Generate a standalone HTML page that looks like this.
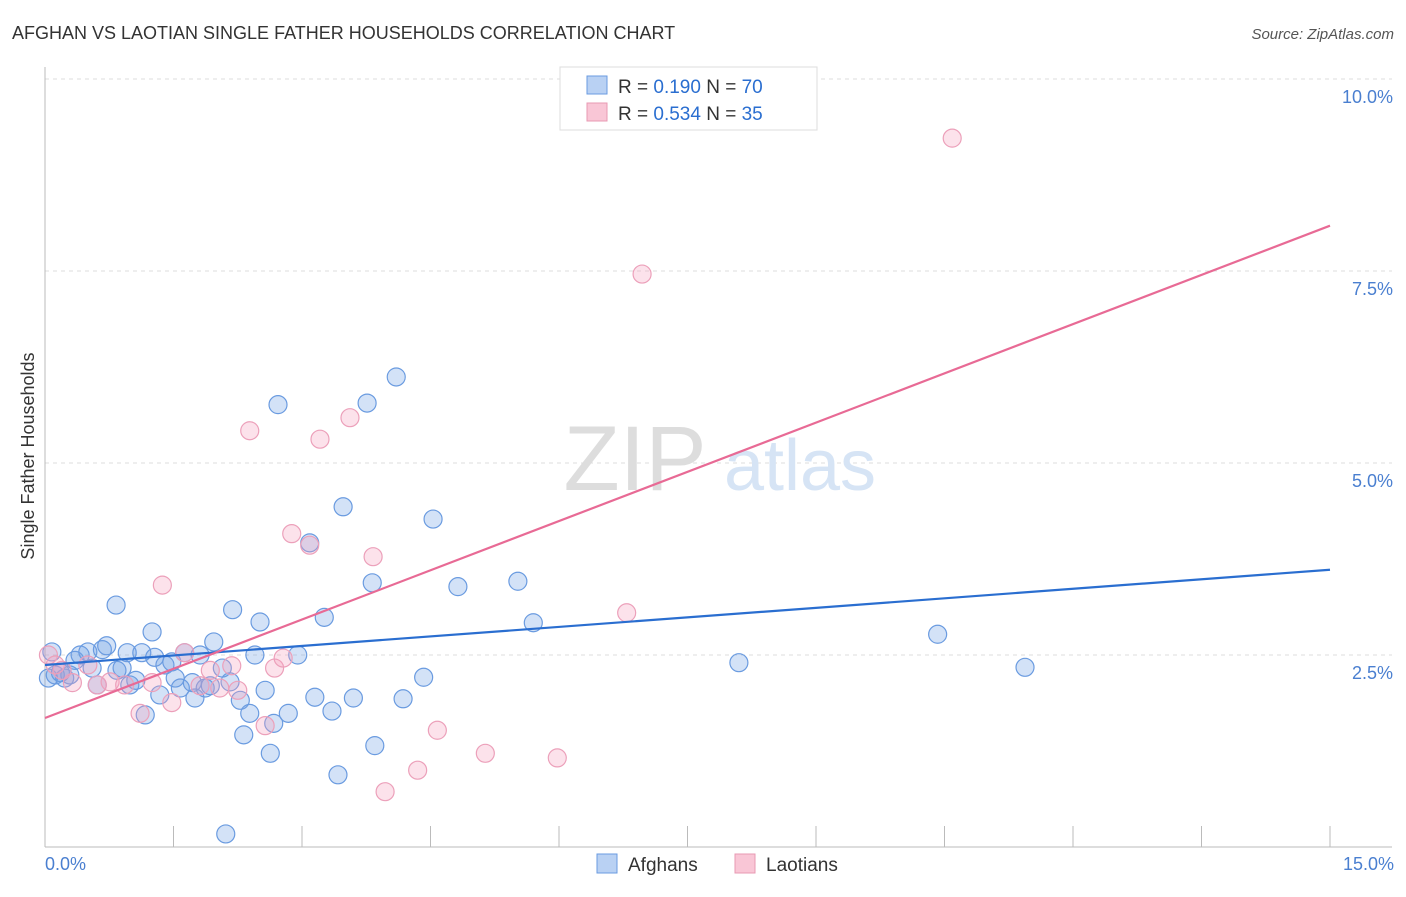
<!DOCTYPE html>
<html><head><meta charset="utf-8"><style>
body{margin:0;background:#fff;font-family:"Liberation Sans",sans-serif;}
svg text{font-family:"Liberation Sans",sans-serif;}
</style></head><body>
<svg width="1406" height="892" viewBox="0 0 1406 892">
<text x="12" y="39" font-size="18" fill="#333">AFGHAN VS LAOTIAN SINGLE FATHER HOUSEHOLDS CORRELATION CHART</text>
<text x="1394" y="39" font-size="15" fill="#555" text-anchor="end" font-style="italic">Source: ZipAtlas.com</text>
<g id="grid"></g>
<g><text x="635" y="490" font-size="92" fill="#ddd" text-anchor="middle" font-family="Liberation Serif">ZIP</text><text x="800" y="490" font-size="72" fill="#d6e4f5" text-anchor="middle">atlas</text></g>
<line x1="45" y1="67" x2="45" y2="847" stroke="#bbb"/>
<line x1="45" y1="847" x2="1392" y2="847" stroke="#bbb"/>
<g id="xticks"></g>
<g id="yticks"></g>
<text x="45" y="870" font-size="18" fill="#4a7fd0">0.0%</text>
<text x="1394" y="870" font-size="18" fill="#4a7fd0" text-anchor="end">15.0%</text>
<text transform="translate(34,456) rotate(-90)" font-size="18" fill="#333" text-anchor="middle">Single Father Households</text>
<g id="pts"></g>
<g id="lines"></g>
<g>
<rect x="560" y="67" width="257" height="63" fill="#fff" stroke="#ddd"/>
<rect x="587" y="76" width="20" height="18" fill="#b9d1f3" stroke="#6a9be0"/>
<rect x="587" y="103" width="20" height="18" fill="#f9c6d6" stroke="#e899b3"/>
<text x="618" y="93" font-size="19" fill="#333">R = <tspan fill="#2a6ed0">0.190</tspan>   N = <tspan fill="#2a6ed0">70</tspan></text>
<text x="618" y="120" font-size="19" fill="#333">R = <tspan fill="#2a6ed0">0.534</tspan>   N = <tspan fill="#2a6ed0">35</tspan></text>
</g>
<g>
<rect x="597" y="854" width="20" height="19" fill="#b9d1f3" stroke="#6a9be0"/>
<text x="628" y="871" font-size="19" fill="#333">Afghans</text>
<rect x="735" y="854" width="20" height="19" fill="#f9c6d6" stroke="#e899b3"/>
<text x="766" y="871" font-size="19" fill="#333">Laotians</text>
</g>
</svg>
<script>
const yTicks=[2.5,5,7.5,10];
const yTickLabels=["2.5%","5.0%","7.5%","10.0%"];
const xTicks=[0,1.5,3,4.5,6,7.5,9,10.5,12,13.5,15];
const afghanX=[0.04,0.08,0.12,0.18,0.23,0.29,0.35,0.41,0.50,0.55,0.61,0.67,0.72,0.83,0.90,0.96,0.99,1.06,1.13,1.17,1.25,1.28,1.34,1.40,1.48,1.52,1.58,1.63,1.72,1.75,1.81,1.87,1.93,1.97,2.07,2.16,2.19,2.28,2.32,2.39,2.45,2.51,2.57,2.63,2.67,2.72,2.84,2.95,3.09,3.15,3.26,3.35,3.42,3.48,3.60,3.76,3.82,3.85,4.10,4.18,4.42,4.53,4.82,5.52,5.70,2.11,8.10,10.42,11.44,0.84];
const afghanY=[2.20,2.54,2.24,2.27,2.20,2.24,2.43,2.50,2.54,2.33,2.11,2.57,2.62,3.15,2.33,2.53,2.11,2.17,2.53,1.72,2.80,2.47,1.98,2.37,2.41,2.20,2.07,2.53,2.14,1.94,2.50,2.07,2.10,2.67,2.33,2.15,3.09,1.91,1.46,1.74,2.50,2.93,2.04,1.22,1.61,5.76,1.74,2.50,3.96,1.95,2.99,1.77,0.94,4.43,1.94,5.78,3.44,1.32,6.12,1.93,2.21,4.27,3.39,3.46,2.92,0.17,2.40,2.77,2.34,2.30];
const laoX=[0.04,0.12,0.20,0.32,0.50,0.61,0.76,0.93,1.11,1.25,1.37,1.48,1.63,1.81,1.93,2.04,2.18,2.25,2.39,2.57,2.68,2.78,2.88,3.09,3.21,3.56,3.83,3.97,4.35,4.58,5.14,5.98,6.79,6.97,10.59];
const laoY=[2.50,2.37,2.30,2.14,2.37,2.11,2.15,2.11,1.74,2.14,3.41,1.88,2.53,2.10,2.30,2.07,2.36,2.04,5.42,1.58,2.33,2.46,4.08,3.93,5.31,5.59,3.78,0.72,1.00,1.52,1.22,1.16,3.05,7.46,9.23];
const afghanTrend=[2.37,3.61];
const laoTrend=[1.68,8.09];
const NS="http://www.w3.org/2000/svg";
const sx=v=>45+v*(1285/15);
const sy=v=>847-v*76.8;
function mk(tag,attrs,parent){const e=document.createElementNS(NS,tag);for(const k in attrs)e.setAttribute(k,attrs[k]);parent.appendChild(e);return e;}
const grid=document.getElementById('grid'),yt=document.getElementById('yticks'),xt=document.getElementById('xticks');
yTicks.forEach((t,i)=>{
 const l=mk('line',{x1:45,x2:1392,y1:sy(t),y2:sy(t),stroke:'#ddd','stroke-dasharray':'4,4'},grid);
 
 
 const tx=mk('text',{x:1393,y:sy(t)+24,'font-size':18,fill:'#4a7fd0','text-anchor':'end'},yt);
 tx.textContent=yTickLabels[i];
 
 
});
xTicks.forEach(t=>{
 const l=mk('line',{x1:sx(t),x2:sx(t),y1:826,y2:847,stroke:'#bbb'},xt);
 
 
});
const pts=document.getElementById('pts');
afghanX.forEach((x,i)=>{
 const c=mk('circle',{cx:sx(x),cy:sy(afghanY[i]),r:9,fill:'rgba(110,160,230,0.3)',stroke:'#6a9be0','stroke-width':1.2},pts);
 
 
});
laoX.forEach((x,i)=>{
 const c=mk('circle',{cx:sx(x),cy:sy(laoY[i]),r:9,fill:'rgba(245,160,190,0.3)',stroke:'#eca0ba','stroke-width':1.2},pts);
 
 
});
const lines=document.getElementById('lines');
const bl=mk('line',{x1:sx(0),y1:sy(afghanTrend[0]),x2:sx(15),y2:sy(afghanTrend[1]),stroke:'#2a6ed0','stroke-width':2.2},lines);


const pl=mk('line',{x1:sx(0),y1:sy(laoTrend[0]),x2:sx(15),y2:sy(laoTrend[1]),stroke:'#e86a95','stroke-width':2.2},lines);


</script>
</body></html>
